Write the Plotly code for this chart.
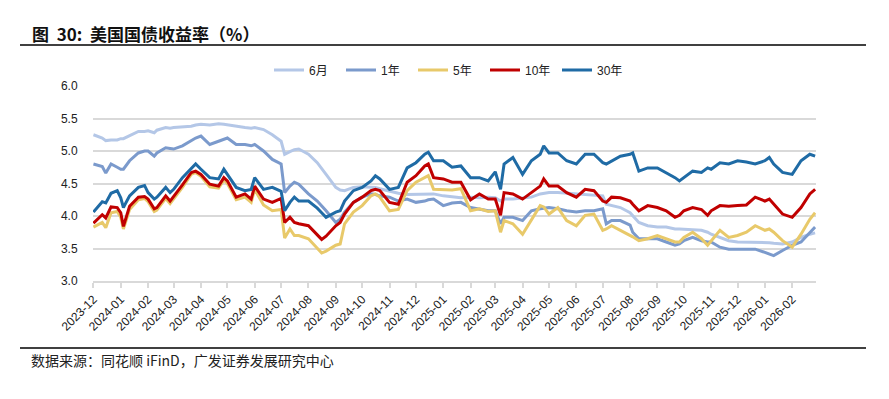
import plotly.graph_objects as go

dates = [
    "2023-12-01", "2023-12-11", "2023-12-15", "2023-12-21", "2023-12-28",
    "2024-01-01", "2024-01-04", "2024-01-11", "2024-01-21", "2024-01-28",
    "2024-02-01", "2024-02-08", "2024-02-11", "2024-02-21", "2024-02-26",
    "2024-03-01", "2024-03-11", "2024-03-21", "2024-03-26", "2024-04-01",
    "2024-04-11", "2024-04-21", "2024-04-27", "2024-05-01", "2024-05-11",
    "2024-05-21", "2024-05-28", "2024-06-01", "2024-06-11", "2024-06-21",
    "2024-07-01", "2024-07-05", "2024-07-11", "2024-07-16", "2024-07-21",
    "2024-08-01", "2024-08-11", "2024-08-16", "2024-08-21", "2024-09-01",
    "2024-09-06", "2024-09-11", "2024-09-21", "2024-10-01", "2024-10-11",
    "2024-10-16", "2024-10-21", "2024-11-01", "2024-11-11", "2024-11-21",
    "2024-12-01", "2024-12-11", "2024-12-15", "2024-12-21", "2025-01-01",
    "2025-01-11", "2025-01-21", "2025-02-01", "2025-02-11", "2025-02-21",
    "2025-03-01", "2025-03-07", "2025-03-11", "2025-03-21", "2025-04-01",
    "2025-04-11", "2025-04-21", "2025-04-25", "2025-05-01", "2025-05-11",
    "2025-05-21", "2025-06-01", "2025-06-11", "2025-06-21", "2025-07-01",
    "2025-07-05", "2025-07-11", "2025-07-21", "2025-08-01", "2025-08-04",
    "2025-08-11", "2025-08-21", "2025-09-01", "2025-09-11", "2025-09-21",
    "2025-09-26", "2025-10-01", "2025-10-11", "2025-10-21", "2025-10-28",
    "2025-11-01", "2025-11-11", "2025-11-21", "2025-12-01", "2025-12-11",
    "2025-12-21", "2026-01-01", "2026-01-06", "2026-01-11", "2026-01-21",
    "2026-02-01", "2026-02-11", "2026-02-21", "2026-02-27",
]

y_6m = [
    5.25, 5.20, 5.16, 5.17, 5.17,
    5.19, 5.19, 5.24, 5.30, 5.30,
    5.31, 5.28, 5.32, 5.36, 5.35,
    5.36, 5.37, 5.38, 5.40, 5.41,
    5.40, 5.42, 5.41, 5.40, 5.38,
    5.36, 5.35, 5.36, 5.33, 5.25,
    5.15, 4.95, 4.99, 5.02, 5.03,
    4.95, 4.82, 4.72, 4.64, 4.44,
    4.40, 4.39, 4.44, 4.45, 4.45,
    4.44, 4.42, 4.38, 4.35, 4.33,
    4.33, 4.33, 4.34, 4.34, 4.31,
    4.29, 4.28, 4.29, 4.28, 4.29,
    4.28, 4.23, 4.26, 4.26, 4.28,
    4.29, 4.34, 4.35, 4.36, 4.36,
    4.35, 4.34, 4.34, 4.33, 4.31,
    4.18, 4.16, 4.13, 4.05, 4.00,
    3.90, 3.85, 3.83, 3.83, 3.80,
    3.80, 3.80, 3.79, 3.78, 3.75,
    3.72, 3.67, 3.62, 3.60, 3.60,
    3.60, 3.60, 3.59, 3.58, 3.57,
    3.60, 3.67, 3.72, 3.74,
]

y_1y = [
    4.80, 4.76, 4.66, 4.80, 4.75,
    4.72, 4.72, 4.85, 4.97, 5.00,
    5.00, 4.92, 4.97, 5.05, 5.04,
    5.03, 5.08, 5.16, 5.20, 5.23,
    5.10, 5.15, 5.18, 5.20, 5.10,
    5.10, 5.08, 5.10, 5.00, 4.87,
    4.80, 4.36, 4.46, 4.52, 4.49,
    4.34, 4.23, 4.16, 4.08, 3.90,
    3.95, 4.06, 4.21, 4.29, 4.34,
    4.33, 4.31, 4.29, 4.23, 4.26,
    4.21, 4.23, 4.25, 4.26, 4.16,
    4.20, 4.21, 4.13, 4.11, 4.08,
    4.08, 3.88, 3.98, 3.98, 3.93,
    4.08, 4.11, 4.12, 4.13, 4.11,
    4.08, 4.06, 4.08, 4.08, 4.11,
    3.88, 3.93, 3.93, 3.86, 3.75,
    3.65, 3.65, 3.65, 3.60, 3.55,
    3.57, 3.62, 3.67, 3.62, 3.60,
    3.60, 3.52, 3.49, 3.49, 3.49,
    3.49, 3.44, 3.42, 3.39, 3.47,
    3.55, 3.60, 3.75, 3.83,
]

y_5y = [
    3.83, 3.90, 3.82, 4.05, 4.07,
    3.98, 3.80, 4.10, 4.25, 4.27,
    4.22, 4.07, 4.09, 4.27, 4.19,
    4.26, 4.44, 4.64, 4.67, 4.61,
    4.45, 4.43, 4.55, 4.50, 4.25,
    4.29, 4.21, 4.41, 4.17, 4.08,
    4.10, 3.66, 3.80, 3.70, 3.70,
    3.65, 3.50, 3.43, 3.46, 3.55,
    3.57, 3.88, 4.06, 4.16, 4.31,
    4.34, 4.29, 4.08, 4.10, 4.39,
    4.52, 4.59, 4.62, 4.41, 4.41,
    4.40, 4.42, 4.08, 4.11, 4.07,
    4.08, 3.75, 3.93, 3.88, 3.72,
    3.93, 4.16, 4.14, 4.03, 4.13,
    3.93, 3.85, 4.01, 4.03, 3.78,
    3.80, 3.85, 3.78, 3.71, 3.68,
    3.62, 3.65, 3.70, 3.65, 3.60,
    3.60, 3.67, 3.75, 3.65, 3.55,
    3.62, 3.78, 3.67, 3.70, 3.75,
    3.85, 3.78, 3.80, 3.75, 3.62,
    3.52, 3.72, 3.95, 4.05,
]

y_10y = [
    3.89, 4.02, 3.97, 4.14, 4.13,
    4.05, 3.84, 4.15, 4.29, 4.30,
    4.26, 4.11, 4.13, 4.31, 4.23,
    4.30, 4.48, 4.67, 4.69, 4.64,
    4.49, 4.46, 4.59, 4.54, 4.29,
    4.34, 4.26, 4.46, 4.26, 4.21,
    4.27, 3.90, 3.98, 3.90, 3.88,
    3.85, 3.70, 3.64, 3.69, 3.85,
    3.90, 4.03, 4.21, 4.29, 4.39,
    4.41, 4.39, 4.21, 4.18, 4.52,
    4.62, 4.77, 4.80, 4.59, 4.57,
    4.52, 4.52, 4.25, 4.34, 4.26,
    4.26, 4.01, 4.36, 4.34, 4.26,
    4.36, 4.46, 4.57, 4.46, 4.46,
    4.36, 4.29, 4.41, 4.39, 4.23,
    4.21, 4.29, 4.28, 4.23, 4.18,
    4.08, 4.16, 4.13, 4.08, 3.98,
    4.01, 4.08, 4.13, 4.10, 4.01,
    4.08, 4.16, 4.15, 4.16, 4.17,
    4.29, 4.23, 4.26, 4.18, 4.03,
    3.98, 4.13, 4.34, 4.41,
]

y_30y = [
    4.06, 4.22, 4.20, 4.35, 4.39,
    4.28, 4.13, 4.31, 4.44, 4.47,
    4.36, 4.26, 4.29, 4.44, 4.36,
    4.41, 4.59, 4.74, 4.80, 4.72,
    4.59, 4.57, 4.72, 4.64, 4.44,
    4.39, 4.41, 4.59, 4.41, 4.44,
    4.38, 4.08, 4.21, 4.29, 4.23,
    4.23, 4.12, 4.05, 3.98, 4.06,
    4.08, 4.23, 4.39, 4.44, 4.54,
    4.62, 4.57, 4.41, 4.44, 4.74,
    4.82, 4.95, 4.98, 4.85, 4.85,
    4.75, 4.77, 4.59, 4.59, 4.54,
    4.68, 4.41, 4.80, 4.90, 4.64,
    4.85, 4.95, 5.08, 4.97, 4.97,
    4.85, 4.80, 4.95, 4.95, 4.82,
    4.80, 4.85, 4.92, 4.95, 4.97,
    4.69, 4.74, 4.74, 4.67, 4.59,
    4.54, 4.59, 4.69, 4.67, 4.74,
    4.72, 4.82, 4.80, 4.85, 4.83,
    4.80, 4.85, 4.90, 4.80, 4.67,
    4.64, 4.85, 4.95, 4.92,
]

series_names = ["6月", "1年", "5年", "10年", "30年"]
series_values = [y_6m, y_1y, y_5y, y_10y, y_30y]
series_colors = ["#B4C7E7", "#7B9ACC", "#E8C96A", "#C00000", "#1F6BA5"]

y_ticks = [3.0, 3.5, 4.0, 4.5, 5.0, 5.5, 6.0]

title_text = "<b>图  30:  美国国债收益率（%）</b>"
source_text = "数据来源：同花顺 iFinD，广发证券发展研究中心"

fig = go.Figure()
for name, vals, col in zip(series_names, series_values, series_colors):
    fig.add_trace(go.Scatter(x=dates, y=vals, name=name, mode="lines",
                             line=dict(color=col, width=3)))

OFF = 8  # page body margin
W, H = 889 - OFF, 399 - OFF
L, R, T, B = 93 - OFF, 816 - OFF, 86 - OFF, 281 - OFF
pw, ph = R - L, B - T


def px(x):
    return (x - OFF - L) / pw


def py(y):
    return (B - (y - OFF)) / ph


fig.update_layout(
    width=W, height=H,
    margin=dict(l=L, r=W - R, t=T, b=H - B, pad=0),
    paper_bgcolor="white", plot_bgcolor="white",
    font=dict(family="Liberation Sans, Arial, Noto Sans CJK SC", size=12, color="#222222"),
    showlegend=True,
    legend=dict(orientation="h", x=px(449), xanchor="center", y=py(70), yanchor="middle",
                font=dict(size=12, color="#222222", family="Liberation Sans, Noto Sans CJK SC"),
                itemwidth=30, entrywidth=27, entrywidthmode="pixels",
                traceorder="normal", bgcolor="rgba(0,0,0,0)"),
    xaxis=dict(type="date", range=["2023-11-30 12:00", "2026-02-28"],
               dtick="M1", tick0="2023-12-01", tickformat="%Y-%m", tickangle=-45,
               showgrid=False, showline=True, linecolor="#D9D9D9", linewidth=1.5,
               ticks="outside", ticklen=5, tickcolor="#D9D9D9", tickwidth=1.5,
               tickfont=dict(size=12, color="#222222"), zeroline=False, fixedrange=True),
    yaxis=dict(range=[3.0, 6.0], tickvals=y_ticks, tickformat=".1f",
               showgrid=True, gridcolor="#D9D9D9", gridwidth=1.5,
               showline=False, zeroline=False, ticks="outside", ticklen=12,
               tickcolor="rgba(0,0,0,0)", tickfont=dict(size=12, color="#222222")),
)

fig.add_annotation(text=title_text, xref="paper", yref="paper", x=px(30), y=py(33),
                   xanchor="left", yanchor="middle", showarrow=False,
                   font=dict(size=17, color="#111111", family="Noto Sans CJK SC, Liberation Sans"))
fig.add_annotation(text=source_text, xref="paper", yref="paper", x=px(29), y=py(360),
                   xanchor="left", yanchor="middle", showarrow=False,
                   font=dict(size=14, color="#222222", family="Noto Sans CJK SC, Liberation Sans"))

fig.add_shape(type="line", xref="paper", yref="paper", x0=px(20), x1=px(866),
              y0=py(45), y1=py(45), line=dict(color="black", width=1.5))
fig.add_shape(type="line", xref="paper", yref="paper", x0=px(20), x1=px(866),
              y0=py(348), y1=py(348), line=dict(color="black", width=1.5))

fig.write_html("out.html")
